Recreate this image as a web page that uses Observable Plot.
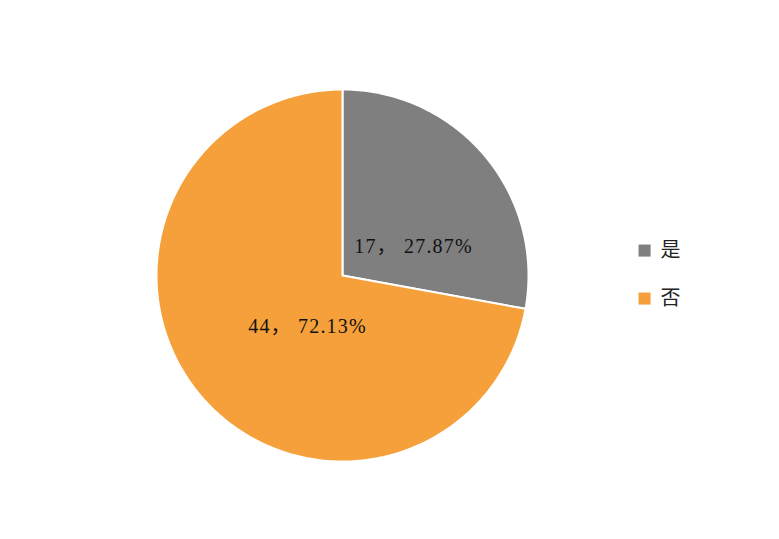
<!DOCTYPE html>
<html>
<head>
<meta charset="utf-8">
<script src="https://cdn.jsdelivr.net/npm/d3@7"></script>
<script src="https://cdn.jsdelivr.net/npm/@observablehq/plot@0.6"></script>
<style>
  html, body { margin: 0; padding: 0; background: #fff; }
  .pie-label text { letter-spacing: 1.2px; }
</style>
</head>
<body>
<div id="chart"></div>
<script>
// Data
const categories = ["是", "否"];
const counts = [17, 44];
const colors = ["#7f7f7f", "#f5a03a"];

// Layout (unit coordinates, pie radius = 1)
const labelPositions = [[0.382, 0.156], [-0.188, -0.274]];
const legendX = 1.624, legendTextX = 1.71;
const legendY = [0.134, -0.124];

const total = d3.sum(counts);
const pie = d3.pie().sort(null).value(d => d)(counts);

const slicePoints = [];
pie.forEach((p, i) => {
  const name = categories[i];
  slicePoints.push({name, x: 0, y: 0});
  const steps = Math.max(2, Math.ceil((p.endAngle - p.startAngle) / (Math.PI / 180)));
  for (let k = 0; k <= steps; k++) {
    const a = p.startAngle + (p.endAngle - p.startAngle) * k / steps;
    slicePoints.push({name, x: Math.sin(a), y: Math.cos(a)});
  }
  slicePoints.push({name, x: 0, y: 0});
});

const labels = categories.map((c, i) => ({
  name: c,
  text: `${counts[i]}， ${(counts[i] / total * 100).toFixed(2)}%`,
  x: labelPositions[i][0],
  y: labelPositions[i][1]
}));

const legend = categories.map((c, i) => ({name: c, y: legendY[i]}));

const chart = Plot.plot({
  width: 779,
  height: 539,
  margin: 0,
  x: {domain: [-1, 1], range: [156, 528], axis: null},
  y: {domain: [-1, 1], range: [461, 89], axis: null},
  color: {domain: categories, range: colors},
  style: {background: "#fff"},
  marks: [
    Plot.line(slicePoints, {x: "x", y: "y", z: "name", fill: "name", stroke: "white", strokeWidth: 2, strokeLinejoin: "miter", curve: "linear"}),
    Plot.text(labels, {x: "x", y: "y", text: "text", fontSize: 20, fill: "#111", className: "pie-label", fontFamily: "'Liberation Serif', 'Noto Sans CJK SC', serif"}),
    Plot.dot(legend, {x: () => legendX, y: "y", symbol: "square", r: 6.8, fill: "name", stroke: null}),
    Plot.text(legend, {x: () => legendTextX, y: "y", text: "name", textAnchor: "start", fontSize: 20, fill: "#222", fontFamily: "'Noto Sans CJK SC', sans-serif"})
  ]
});
document.getElementById("chart").appendChild(chart);
</script>
</body>
</html>
